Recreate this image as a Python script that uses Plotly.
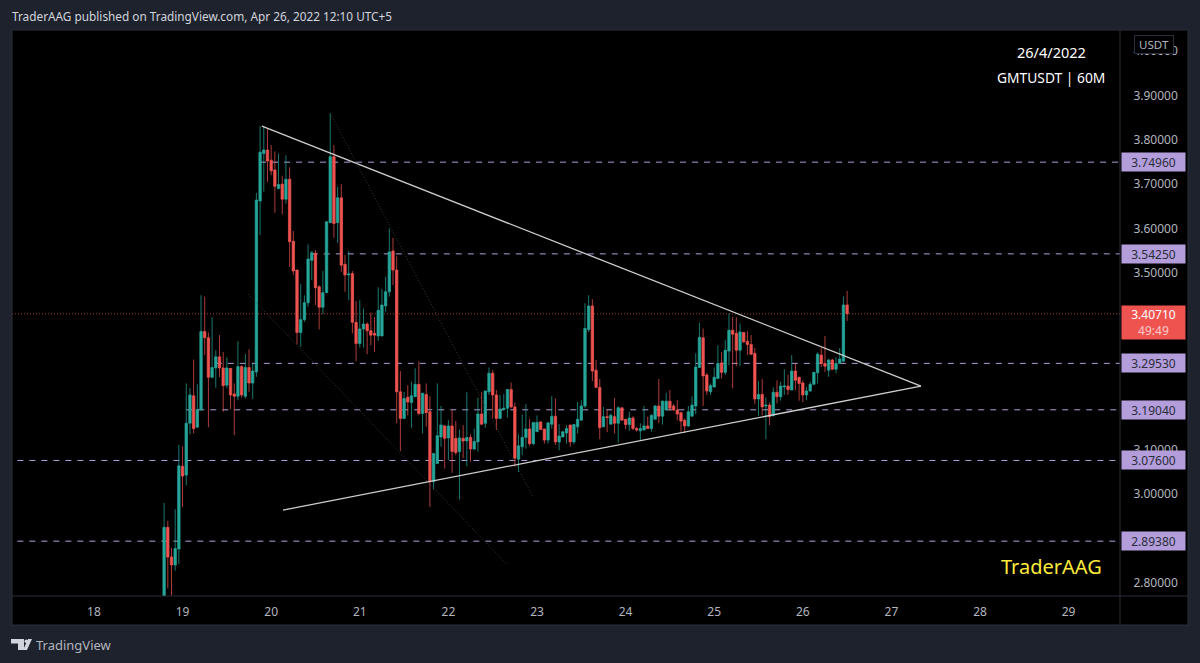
import pandas as pd
import plotly.graph_objects as go

# GMTUSDT 60m candles, first bar Apr 18 19:00
first_bar = "2022-04-18 19:00"

opens = [2.72,2.925,2.858,2.840,2.876,3.063,3.043,3.160,3.222,3.151,
3.190,3.367,3.353,3.264,3.285,3.310,3.285,3.246,3.284,3.226,
3.221,3.288,3.221,3.286,3.251,3.276,3.662,3.769,3.777,3.754,
3.732,3.690,3.700,3.666,3.711,3.571,3.506,3.365,3.394,3.432,
3.528,3.544,3.468,3.422,3.455,3.613,3.762,3.613,3.669,3.519,
3.495,3.498,3.388,3.340,3.373,3.384,3.369,3.363,3.357,3.357,
3.425,3.457,3.549,3.506,3.231,3.171,3.219,3.207,3.220,3.248,
3.182,3.225,3.186,3.028,3.069,3.129,3.154,3.127,3.154,3.126,
3.096,3.126,3.120,3.128,3.102,3.118,3.181,3.160,3.231,3.273,
3.224,3.171,3.191,3.194,3.236,3.197,3.079,3.107,3.128,3.147,
3.114,3.141,3.163,3.147,3.122,3.158,3.176,3.118,3.129,3.138,
3.156,3.118,3.152,3.167,3.199,3.372,3.425,3.280,3.241,3.152,
3.175,3.158,3.175,3.160,3.195,3.169,3.157,3.172,3.148,3.143,
3.145,3.154,3.148,3.169,3.199,3.176,3.190,3.210,3.199,3.190,
3.184,3.167,3.154,3.176,3.199,3.286,3.353,3.269,3.231,3.242,
3.261,3.296,3.275,3.323,3.370,3.363,3.325,3.365,3.345,3.338,
3.318,3.215,3.225,3.199,3.201,3.177,3.230,3.220,3.242,3.244,
3.235,3.278,3.264,3.251,3.224,3.233,3.248,3.274,3.314,3.295,
3.280,3.303,3.282,3.295,3.300,3.427]
highs = [2.980,2.940,2.879,2.966,3.111,3.108,3.250,3.240,3.304,3.248,
3.449,3.446,3.365,3.399,3.325,3.359,3.321,3.309,3.285,3.250,
3.345,3.291,3.316,3.327,3.295,3.680,3.831,3.831,3.826,3.788,
3.774,3.769,3.719,3.765,3.738,3.594,3.506,3.474,3.449,3.564,
3.549,3.551,3.472,3.504,3.615,3.860,3.788,3.694,3.700,3.540,
3.549,3.504,3.436,3.438,3.419,3.388,3.410,3.400,3.467,3.463,
3.491,3.600,3.579,3.537,3.278,3.231,3.246,3.254,3.284,3.300,
3.228,3.250,3.221,3.092,3.250,3.199,3.156,3.167,3.190,3.165,
3.146,3.156,3.230,3.135,3.148,3.218,3.231,3.233,3.286,3.280,
3.235,3.224,3.226,3.237,3.252,3.207,3.135,3.180,3.203,3.169,
3.162,3.178,3.165,3.148,3.162,3.221,3.216,3.158,3.141,3.156,
3.157,3.158,3.208,3.212,3.431,3.449,3.440,3.303,3.260,3.197,
3.190,3.182,3.217,3.199,3.195,3.169,3.186,3.176,3.152,3.160,
3.199,3.175,3.180,3.201,3.260,3.211,3.229,3.235,3.203,3.212,
3.186,3.171,3.199,3.221,3.318,3.387,3.374,3.274,3.250,3.286,
3.336,3.321,3.348,3.408,3.400,3.399,3.385,3.366,3.368,3.359,
3.330,3.255,3.260,3.218,3.207,3.241,3.257,3.254,3.282,3.269,
3.314,3.295,3.265,3.257,3.242,3.254,3.276,3.320,3.330,3.357,
3.305,3.306,3.309,3.330,3.446,3.459]
lows = [2.70,2.787,2.771,2.827,2.842,2.971,3.020,3.135,3.137,3.151,
3.190,3.314,3.151,3.262,3.240,3.264,3.186,3.239,3.192,3.133,
3.212,3.218,3.216,3.231,3.215,3.265,3.585,3.683,3.705,3.720,
3.635,3.688,3.632,3.656,3.513,3.495,3.338,3.333,3.389,3.423,
3.483,3.427,3.372,3.406,3.454,3.613,3.579,3.567,3.502,3.457,
3.438,3.363,3.300,3.331,3.331,3.316,3.336,3.321,3.346,3.357,
3.412,3.446,3.472,3.160,3.097,3.171,3.178,3.150,3.220,3.178,
3.137,3.152,2.971,3.011,3.069,3.107,3.058,3.077,3.048,3.088,
2.988,3.081,3.063,3.073,3.099,3.096,3.156,3.150,3.224,3.171,
3.145,3.171,3.190,3.173,3.194,3.062,3.050,3.088,3.103,3.109,
3.111,3.141,3.145,3.114,3.114,3.148,3.111,3.099,3.129,3.114,
3.107,3.113,3.137,3.167,3.194,3.366,3.255,3.241,3.124,3.152,
3.140,3.158,3.137,3.116,3.167,3.147,3.143,3.145,3.141,3.122,
3.143,3.147,3.141,3.169,3.160,3.157,3.190,3.188,3.188,3.167,
3.141,3.138,3.152,3.176,3.180,3.286,3.199,3.224,3.224,3.242,
3.261,3.261,3.269,3.291,3.239,3.289,3.289,3.341,3.314,3.314,
3.203,3.177,3.178,3.124,3.156,3.177,3.205,3.211,3.224,3.224,
3.235,3.235,3.211,3.208,3.212,3.231,3.246,3.250,3.287,3.276,
3.265,3.280,3.273,3.294,3.300,3.391]
closes = [2.925,2.858,2.840,2.877,3.064,3.041,3.160,3.224,3.148,3.191,
3.367,3.353,3.264,3.286,3.310,3.285,3.245,3.285,3.224,3.221,
3.288,3.224,3.286,3.251,3.278,3.664,3.772,3.777,3.752,3.730,
3.695,3.699,3.666,3.711,3.570,3.504,3.365,3.394,3.432,3.531,
3.545,3.466,3.422,3.455,3.615,3.762,3.611,3.669,3.517,3.495,
3.497,3.388,3.340,3.373,3.384,3.369,3.359,3.359,3.415,3.427,
3.457,3.547,3.506,3.231,3.171,3.216,3.208,3.222,3.248,3.182,
3.228,3.184,3.028,3.092,3.132,3.156,3.126,3.154,3.096,3.094,
3.127,3.120,3.128,3.102,3.119,3.181,3.158,3.233,3.273,3.224,
3.171,3.192,3.194,3.236,3.197,3.081,3.109,3.128,3.147,3.114,
3.162,3.162,3.146,3.122,3.161,3.176,3.118,3.131,3.141,3.148,
3.118,3.157,3.169,3.199,3.374,3.425,3.278,3.241,3.150,3.175,
3.173,3.178,3.160,3.195,3.167,3.157,3.172,3.148,3.145,3.148,
3.154,3.148,3.178,3.199,3.176,3.210,3.210,3.194,3.190,3.181,
3.165,3.154,3.186,3.201,3.287,3.354,3.267,3.233,3.245,3.264,
3.295,3.275,3.325,3.370,3.361,3.325,3.366,3.344,3.338,3.316,
3.215,3.225,3.197,3.201,3.175,3.230,3.220,3.244,3.244,3.236,
3.278,3.257,3.250,3.224,3.233,3.248,3.275,3.316,3.295,3.289,
3.303,3.282,3.295,3.305,3.427,3.4071]

level_prices = [3.7496, 3.5425, 3.2953, 3.1904, 3.0760, 2.8938]
level_starts = ["2022-04-19 21:00", "2022-04-20 11:00", "2022-04-19 09:00",
                "2022-04-19 01:00", "2022-04-17 00:00", "2022-04-17 00:00"]
last_price = 3.4071
countdown = "49:49"

# hand drawn lines: (time, price) ends
wedge_upper = (["2022-04-19 21:30", "2022-04-27 08:00"], [3.831, 3.244])
wedge_lower = (["2022-04-20 03:12", "2022-04-27 08:00"], [2.964, 3.244])
channel_a = (["2022-04-20 16:00", "2022-04-22 23:00"], [3.860, 2.993])
channel_b = (["2022-04-19 17:42", "2022-04-22 16:00"], [3.452, 2.840])

day_ticks = ["2022-04-%02d" % d for d in range(18, 30)]
day_labels = [str(d) for d in range(18, 30)]
# 2.9, 3.3 and 3.4 sit fully under the price labels
price_ticks = [2.8, 3.0, 3.1, 3.2, 3.5, 3.6, 3.7, 3.8, 3.9, 4.0]

x_range = ["2022-04-17 01:48", "2022-04-29 13:55"]
y_range = [2.770, 4.048]

UP = "#26a69a"
DOWN = "#ef5350"
UP_WICK = "rgba(38,166,154,0.72)"
DOWN_WICK = "rgba(239,83,80,0.72)"
PURPLE = "#b39ddb"
PANEL = "#1e222d"
BORDER = "#2a2e39"
AXIS_TEXT = "#b2b5be"
FONT = "Noto Sans"

W, H = 1200, 663
LEFT, RIGHT, TOP, BOTTOM = 12, 1120, 30, 596


def px(x):
    return (x - LEFT) / (RIGHT - LEFT)


def py(y):
    return (BOTTOM - y) / (BOTTOM - TOP)


bars = pd.date_range(first_bar, periods=len(opens), freq="h")

fig = go.Figure()
fig.add_trace(go.Candlestick(
    x=bars, open=opens, high=highs, low=lows, close=closes,
    increasing=dict(line=dict(color=UP_WICK, width=1), fillcolor=UP),
    decreasing=dict(line=dict(color=DOWN_WICK, width=1), fillcolor=DOWN),
    whiskerwidth=0, showlegend=False,
))
for line in (wedge_upper, wedge_lower):
    fig.add_trace(go.Scatter(x=line[0], y=line[1], mode="lines", showlegend=False,
                             line=dict(color="#cfcfcf", width=1.3)))
for line in (channel_a, channel_b):
    fig.add_trace(go.Scatter(x=line[0], y=line[1], mode="lines", showlegend=False,
                             line=dict(color="#3a3a3a", width=1, dash="1px,2px")))

shapes = [
    # black panes for the axes
    dict(type="rect", xref="paper", yref="paper", x0=px(RIGHT), x1=px(1188), y0=py(625), y1=py(TOP),
         fillcolor="black", line_width=0, layer="below"),
    dict(type="rect", xref="paper", yref="paper", x0=px(LEFT), x1=px(RIGHT), y0=py(625), y1=py(BOTTOM),
         fillcolor="black", line_width=0, layer="below"),
    dict(type="line", xref="paper", yref="paper", x0=px(RIGHT), x1=px(RIGHT), y0=py(625), y1=py(TOP),
         line=dict(color=BORDER, width=1), layer="above"),
    dict(type="line", xref="paper", yref="paper", x0=px(LEFT), x1=px(1188), y0=py(BOTTOM), y1=py(BOTTOM),
         line=dict(color=BORDER, width=1), layer="above"),
    dict(type="rect", xref="paper", yref="paper", x0=px(LEFT), x1=px(1188), y0=py(625), y1=py(TOP),
         line=dict(color=BORDER, width=1), fillcolor="rgba(0,0,0,0)", layer="above"),
    # last price line
    dict(type="line", xref="x", yref="y", x0=x_range[0], x1=x_range[1], y0=last_price, y1=last_price,
         line=dict(color=DOWN, width=1, dash="1px,2px"), opacity=0.7, layer="between"),
    # TradingView mark
    dict(type="path", xref="paper", yref="paper", fillcolor="#d1d4dc", line_width=0, layer="above",
         path="M %f %f L %f %f L %f %f L %f %f L %f %f L %f %f Z" % (
             px(11), py(639), px(24), py(639), px(24), py(650), px(18), py(650),
             px(18), py(643.5), px(11), py(643.5))),
    dict(type="circle", xref="paper", yref="paper", fillcolor="#d1d4dc", line_width=0, layer="above",
         x0=px(24.5), x1=px(28), y0=py(643), y1=py(639.5)),
    dict(type="path", xref="paper", yref="paper", fillcolor="#d1d4dc", line_width=0, layer="above",
         path="M %f %f L %f %f L %f %f L %f %f Z" % (
             px(28), py(639), px(32), py(639), px(27), py(650), px(23), py(650))),
]
for price, start in zip(level_prices, level_starts):
    shapes.append(dict(type="line", xref="x", yref="y", x0=start, x1=x_range[1], y0=price, y1=price,
                       line=dict(color=PURPLE, width=1, dash="6px,6px"), layer="between"))

annotations = [
    dict(xref="paper", yref="paper", x=px(10), y=py(16), xanchor="left", yanchor="middle", showarrow=False,
         text="TraderAAG published on TradingView.com, Apr 26, 2022 12:10 UTC+5",
         font=dict(family=FONT, size=11.8, color="#d1d4dc")),
    dict(xref="paper", yref="paper", x=px(1051), y=py(52), xanchor="center", yanchor="middle", showarrow=False,
         text="26/4/2022", font=dict(family=FONT, size=14.5, color="white")),
    dict(xref="paper", yref="paper", x=px(1051), y=py(77), xanchor="center", yanchor="middle", showarrow=False,
         text="GMTUSDT | 60M", font=dict(family=FONT, size=13.8, color="white")),
    dict(xref="paper", yref="paper", x=px(1051), y=py(566), xanchor="center", yanchor="middle", showarrow=False,
         text="TraderAAG", font=dict(family=FONT, size=20, color="#ffeb3b")),
    dict(xref="paper", yref="paper", x=px(34), y=py(645), xanchor="left", yanchor="middle", showarrow=False,
         text="TradingView", font=dict(family=FONT, size=13, color="#b2b5be")),
    dict(xref="paper", yref="paper", x=px(1154), y=py(45), xanchor="center", yanchor="middle", showarrow=False,
         text="USDT", font=dict(family=FONT, size=11.5, color=AXIS_TEXT),
         bgcolor="black", bordercolor=BORDER, borderwidth=1, width=36, height=15),
    dict(xref="paper", yref="y", x=px(1121), y=last_price, xanchor="left", yanchor="top", yshift=9,
         showarrow=False, align="center", width=63, height=33, bgcolor=DOWN, borderpad=0,
         text="%.5f<br><span style='color:#fbc9c8'>%s</span>" % (last_price, countdown),
         font=dict(family=FONT, size=12, color="white")),
]
for price in level_prices:
    annotations.append(dict(xref="paper", yref="y", x=px(1121), y=price, xanchor="left", yanchor="middle",
                            showarrow=False, align="center", width=63, height=18, bgcolor=PURPLE, borderpad=0,
                            text="%.5f" % price, font=dict(family=FONT, size=12, color="#2a2e39")))

fig.update_layout(
    width=W, height=H,
    paper_bgcolor=PANEL, plot_bgcolor="black",
    margin=dict(l=LEFT, r=W - RIGHT, t=TOP, b=H - BOTTOM, autoexpand=False),
    showlegend=False, shapes=shapes, annotations=annotations,
    boxgap=0.35, boxgroupgap=0,
    xaxis=dict(type="date", range=x_range, rangeslider=dict(visible=False), showgrid=False, zeroline=False,
               tickmode="array", tickvals=day_ticks, ticktext=day_labels,
               ticks="outside", ticklen=5, tickcolor="rgba(0,0,0,0)",
               tickfont=dict(family=FONT, size=12, color=AXIS_TEXT)),
    yaxis=dict(side="right", range=y_range, showgrid=False, zeroline=False,
               tickmode="array", tickvals=price_ticks, tickformat=".5f",
               ticks="outside", ticklen=10, tickcolor="rgba(0,0,0,0)",
               tickfont=dict(family=FONT, size=12, color=AXIS_TEXT)),
)

# the page's default body margin would push the figure 8px in
fig.write_html("out.html", post_script="document.body.style.margin='0';", config=dict(displayModeBar=False))
